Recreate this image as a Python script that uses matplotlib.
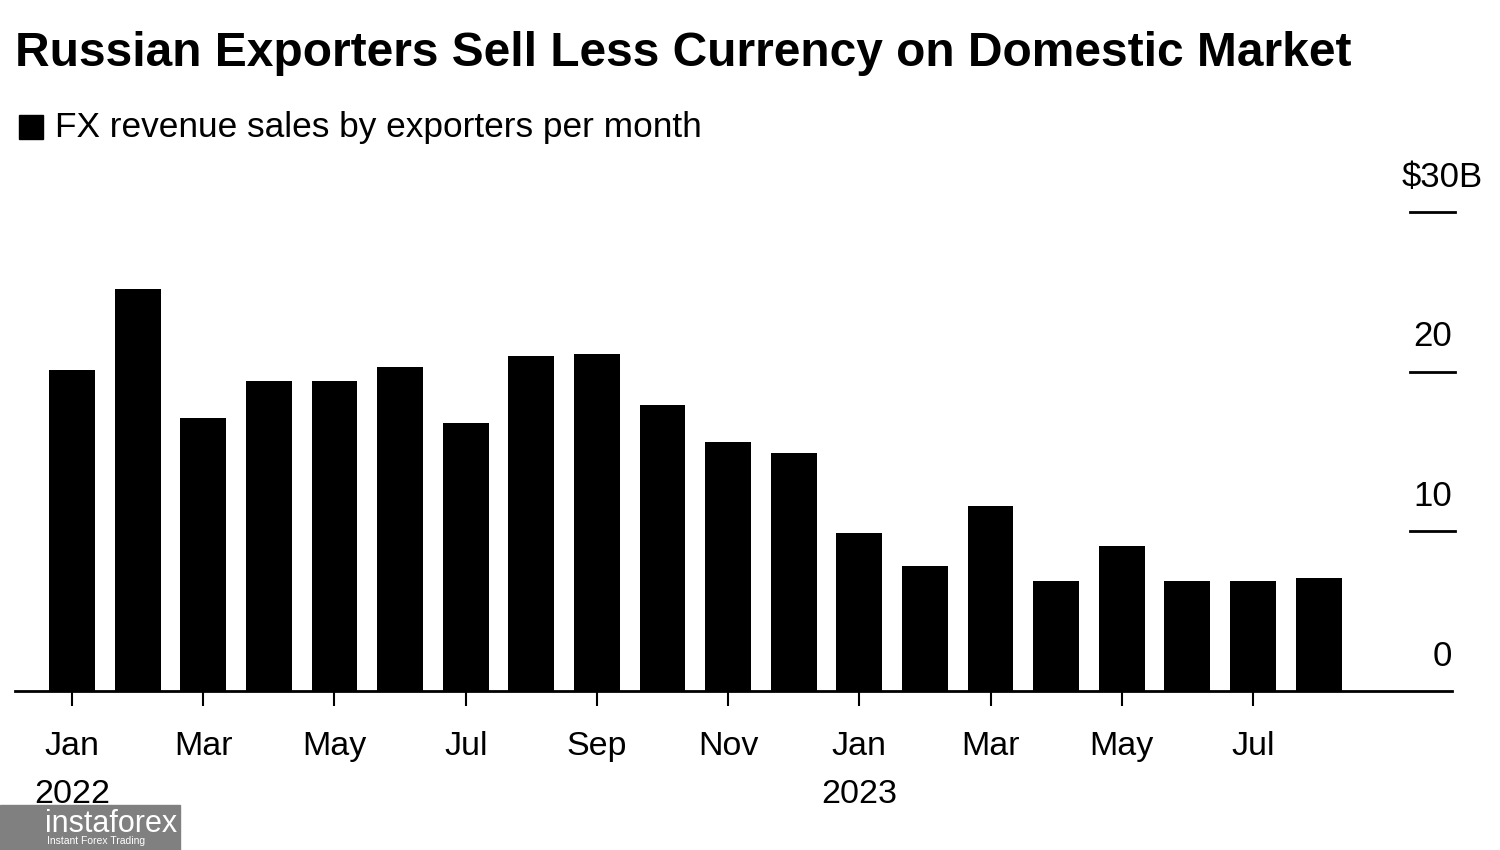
import matplotlib.pyplot as plt
from matplotlib.patches import Rectangle

plt.rcParams['font.family'] = ['Liberation Sans', 'DejaVu Sans']

# monthly FX revenue sales, $B, Jan 2022 .. Aug 2023
months = ['Jan', 'Feb', 'Mar', 'Apr', 'May', 'Jun', 'Jul', 'Aug', 'Sep', 'Oct', 'Nov', 'Dec',
          'Jan', 'Feb', 'Mar', 'Apr', 'May', 'Jun', 'Jul', 'Aug']
years = ['2022'] + [''] * 11 + ['2023'] + [''] * 7
sales = [20.1, 25.2, 17.1, 19.4, 19.4, 20.3, 16.8, 21.0, 21.1, 17.9,
         15.6, 14.9, 9.9, 7.8, 11.6, 6.9, 9.1, 6.9, 6.9, 7.1]
yticks = [0, 10, 20, 30]
ytick_labels = ['0', '10', '20', '$30B']

W, H = 1500, 850
fig = plt.figure(figsize=(15, 8.5), dpi=100)
ax = fig.add_axes([15 / W, 1 - 691 / H, (1455 - 15) / W, (691 - 212) / H])

x = list(range(len(sales)))
ax.bar(x, sales, width=0.7, color='black')
ax.set_xlim(-0.87, 21.08)
ax.set_ylim(0, 30)

for s in ax.spines.values():
    s.set_visible(False)
ax.axhline(0, color='black', lw=2, xmax=(1452 - 15) / (1455 - 15), clip_on=False)

# y ticks: short lines at right with labels above
ax.set_yticks([])
for v, lab in zip(yticks, ytick_labels):
    if v > 0:
        ax.axhline(v, xmin=0.969, xmax=1.0, color='black', lw=2, clip_on=False)
    # the "$30B" label lets its unit hang past the tick
    dx = 20 if lab.endswith('B') else -2
    ax.annotate(lab, xy=(1.0, v), xycoords=('axes fraction', 'data'),
                xytext=(dx, 25), textcoords='offset points',
                ha='right', va='center', fontsize=25)

# x ticks at every other month
ticks = x[::2]
ax.set_xticks(ticks)
ax.set_xticklabels([months[i] + '\n' + years[i] if years[i] else months[i] for i in ticks],
                   fontsize=24.5, linespacing=1.68, va='top')
ax.tick_params(axis='x', length=11, width=1.5, pad=18)

fig.text(15 / W, 1 - 54 / H, 'Russian Exporters Sell Less Currency on Domestic Market',
         fontsize=34.5, fontweight='bold', va='center', ha='left')
fig.patches.append(Rectangle((19 / W, 1 - 139 / H), 24 / W, 24 / H,
                             transform=fig.transFigure, color='black'))
fig.text(55 / W, 1 - 127 / H, 'FX revenue sales by exporters per month',
         fontsize=25.4, va='center', ha='left')

# watermark overlay
fig.patches.append(Rectangle((0, 0), 180 / W, 45 / H, transform=fig.transFigure,
                             color='#808080', zorder=10))
fig.text(45 / W, 1 - 824 / H, 'instaforex', color='white', fontsize=22,
         va='center', ha='left', zorder=11)
fig.text(47 / W, 1 - 841 / H, 'Instant Forex Trading', color='white', fontsize=7.5,
         va='center', ha='left', zorder=11)

fig.savefig('out.png', dpi=100)
